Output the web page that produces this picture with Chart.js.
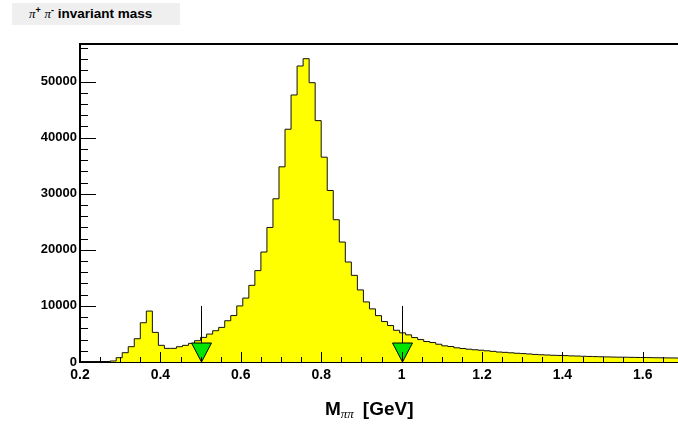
<!DOCTYPE html>
<html>
<head>
<meta charset="utf-8">
<script src="https://cdn.jsdelivr.net/npm/chart.js@4.4.1/dist/chart.umd.min.js"></script>
<style>
  html, body { margin: 0; padding: 0; overflow: hidden; background: #fff; }
  #wrap { position: relative; width: 678px; height: 425px; overflow: hidden; }
  canvas { position: absolute; left: 0; top: 0; }
  #title {
    position: absolute; left: 12px; top: 3px; width: 168px; height: 22px;
    background: #efefef; box-sizing: border-box; padding-left: 17px;
    font: bold 13.5px "Liberation Sans", Arial, sans-serif; line-height: 22px; color: #000;
  }
  .pi { font: italic 13px "Liberation Serif", "DejaVu Serif", serif; }
  #title sup { font-size: 9px; vertical-align: 5px; line-height: 0; }
  #xtitle {
    position: absolute; left: 325px; top: 399px; white-space: nowrap;
    font: bold 19px "Liberation Sans", Arial, sans-serif; line-height: 19px; color: #000;
  }
  #xtitle .sub { font: italic 13px "Liberation Serif", "DejaVu Serif", serif; vertical-align: -3px; margin-right: 9px; }
</style>
</head>
<body>
<div id="wrap">
  <canvas id="c" width="690" height="425"></canvas>
  <div id="title"><span class="pi">π</span><sup>+</sup> <span class="pi">π</span><sup>-</sup> invariant mass</div>
  <div id="xtitle">M<span class="sub">ππ</span>[GeV]</div>
</div>
<script>
// histogram binning: 100 bins from 0.2 to 1.7 GeV
const xMin = 0.2;
const xMax = 1.7;
const binWidth = 0.015;

// counts per bin
const binValues = [
  0, 0, 0, 0, 0, 180, 770, 1660, 2730, 4150,
  7000, 9080, 5280, 2970, 2430, 2430, 2730, 2970, 3320, 3800,
  4390, 4980, 5580, 6170, 7360, 8280, 10000, 11400, 13670, 16290,
  19610, 23990, 29100, 34800, 41500, 47610, 52780, 54080, 49800, 43040,
  36520, 30580, 25370, 21390, 17830, 15450, 12850, 10710, 9470, 8270,
  7210, 6500, 5660, 5200, 4840, 4360, 4000, 3650, 3470, 3170,
  2880, 2760, 2530, 2400, 2280, 2180, 2100, 2000, 1900, 1780,
  1720, 1640, 1560, 1500, 1430, 1350, 1290, 1250, 1200, 1170,
  1140, 1090, 1060, 1020, 990, 960, 930, 910, 880, 860,
  850, 830, 810, 800, 780, 760, 750, 730, 720, 700
];

// axis ticks
const xTicks = [0.2, 0.4, 0.6, 0.8, 1.0, 1.2, 1.4, 1.6];
const xTickLabels = ['0.2', '0.4', '0.6', '0.8', '1', '1.2', '1.4', '1.6'];
const yTicks = [0, 10000, 20000, 30000, 40000, 50000];
const yMax = 56700;

// cut markers (green triangles)
const cutPositions = [0.5, 1.0];
const cutLineTop = 10000;

const points = binValues.map((v, i) => ({ x: xMin + i * binWidth, y: v }));
points.push({ x: xMax, y: binValues[binValues.length - 1] });

const rootDecor = {
  id: 'rootDecor',
  afterDatasetsDraw(chart) {
    const { ctx, chartArea: a, scales: { x, y } } = chart;
    ctx.save();

    // cut lines + triangles
    const base = y.getPixelForValue(0);
    cutPositions.forEach(c => {
      const px = Math.round(x.getPixelForValue(c));
      ctx.strokeStyle = '#000';
      ctx.lineWidth = 1;
      ctx.beginPath();
      ctx.moveTo(px + 0.5, y.getPixelForValue(cutLineTop));
      ctx.lineTo(px + 0.5, base);
      ctx.stroke();
      ctx.beginPath();
      ctx.moveTo(px + 0.5 - 10, base - 19);
      ctx.lineTo(px + 0.5 + 10, base - 19);
      ctx.lineTo(px + 0.5, base);
      ctx.closePath();
      ctx.fillStyle = '#00e600';
      ctx.fill();
      ctx.stroke();
    });

    // ticks pointing into the frame
    ctx.strokeStyle = '#000';
    ctx.lineWidth = 1;
    ctx.beginPath();
    for (let k = 0; k <= 30; k++) {
      const v = xMin + k * 0.05;
      const px = Math.round(x.getPixelForValue(v)) + 0.5;
      const len = k % 4 === 0 ? 10 : 5;
      ctx.moveTo(px, a.bottom);
      ctx.lineTo(px, a.bottom - len);
    }
    for (let k = 0; k * 2000 <= yMax; k++) {
      const py = Math.round(y.getPixelForValue(k * 2000)) + 0.5;
      const len = k % 5 === 0 ? 16 : 8;
      ctx.moveTo(a.left, py);
      ctx.lineTo(a.left + len, py);
    }
    ctx.stroke();

    // top frame
    ctx.lineWidth = 2;
    ctx.beginPath();
    ctx.moveTo(a.left, a.top);
    ctx.lineTo(a.right, a.top);
    ctx.stroke();
    ctx.restore();
  }
};

new Chart(document.getElementById('c').getContext('2d'), {
  type: 'line',
  data: {
    datasets: [{
      data: points,
      stepped: true,
      fill: 'origin',
      backgroundColor: '#ffff00',
      borderColor: '#111',
      borderWidth: 1,
      pointRadius: 0,
      tension: 0
    }]
  },
  options: {
    responsive: false,
    animation: false,
    devicePixelRatio: 1,
    layout: { padding: { top: 44, right: 7, left: 0, bottom: 0 } },
    plugins: { legend: { display: false }, tooltip: { enabled: false } },
    scales: {
      x: {
        type: 'linear',
        min: xMin,
        max: xMax,
        afterBuildTicks: s => { s.ticks = xTicks.map(v => ({ value: v })); },
        afterFit: s => { s.height = 63; },
        grid: { display: false, drawTicks: false },
        border: { display: true, color: '#000', width: 2 },
        ticks: {
          padding: 5,
          maxRotation: 0,
          autoSkip: false,
          color: '#000',
          font: { family: 'Liberation Sans', size: 14, weight: 'bold' },
          callback: (v, i) => xTickLabels[i]
        }
      },
      y: {
        min: 0,
        max: yMax,
        afterBuildTicks: s => { s.ticks = yTicks.map(v => ({ value: v })); },
        afterFit: s => { s.width = 80; },
        grid: { display: false, drawTicks: false },
        border: { display: true, color: '#000', width: 2 },
        ticks: {
          padding: 3,
          color: '#000',
          font: { family: 'Liberation Sans', size: 13, weight: 'bold' },
          callback: v => String(v)
        }
      }
    }
  },
  plugins: [rootDecor]
});
</script>
</body>
</html>
